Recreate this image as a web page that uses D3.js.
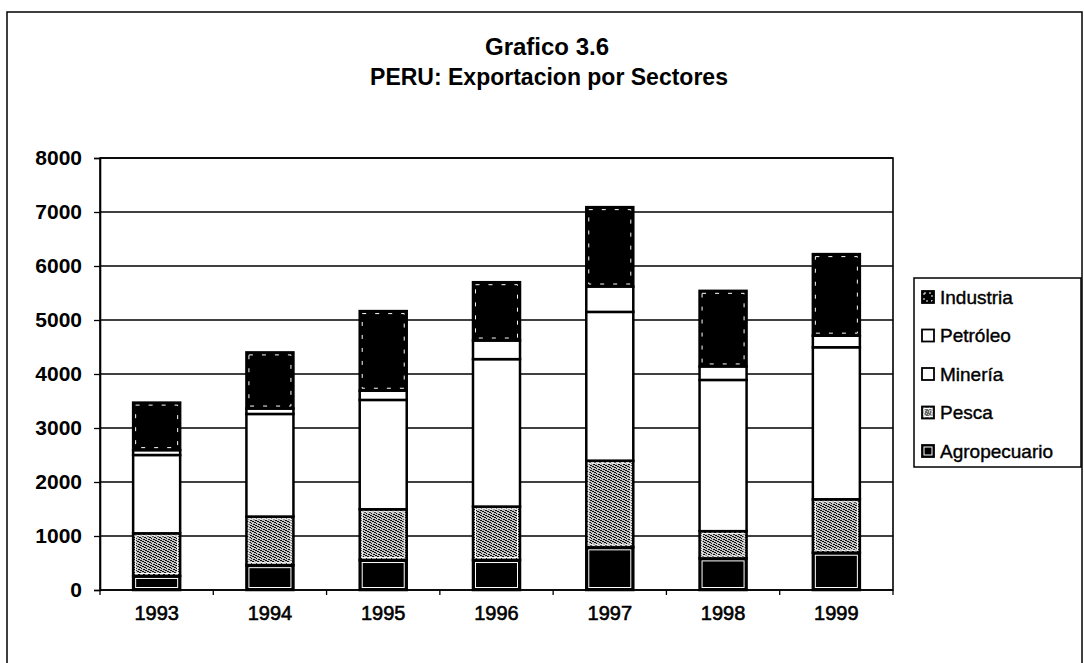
<!DOCTYPE html>
<html>
<head>
<meta charset="utf-8">
<script src="https://cdn.jsdelivr.net/npm/d3@7"></script>
<style>
  html, body { margin: 0; padding: 0; background: #fff; }
  svg { display: block; font-family: "Liberation Sans", Arial, sans-serif; }
</style>
</head>
<body>
<svg id="chart" width="1084" height="663"></svg>
<script>
// Exportaciones del Perú por sector, millones de US$
const years = ["1993", "1994", "1995", "1996", "1997", "1998", "1999"];
const agropecuario = [260, 460, 555, 555, 790, 585, 690];
const pesca        = [790, 900, 940, 990, 1605, 505, 990];
const mineria      = [1450, 1900, 2025, 2730, 2755, 2800, 2815];
const petroleo     = [90, 100, 170, 345, 470, 250, 215];
const industria    = [880, 1040, 1475, 1080, 1470, 1400, 1510];
const yTicks = [0, 1000, 2000, 3000, 4000, 5000, 6000, 7000, 8000];

const sectorKeys = ["Agropecuario", "Pesca", "Minería", "Petróleo", "Industria"];
const rows = years.map((y, i) => ({
  year: y,
  "Agropecuario": agropecuario[i],
  "Pesca": pesca[i],
  "Minería": mineria[i],
  "Petróleo": petroleo[i],
  "Industria": industria[i]
}));

const svg = d3.select("#chart");
const plot = { left: 100, right: 893, top: 158, bottom: 590 };
const FONT = "Liberation Sans, Arial, sans-serif";

// stipple texture for the Pesca series
const defs = svg.append("defs");
const pat = defs.append("pattern").attr("id", "stipple")
  .attr("width", 5).attr("height", 5).attr("patternUnits", "userSpaceOnUse");
pat.append("rect").attr("width", 5).attr("height", 5).attr("fill", "#c4c4c4");
[[0,0],[2,1],[4,2],[1,3],[3,4],[0,2],[3,1],[4,4],[1,0]].forEach(([dx, dy]) =>
  pat.append("rect").attr("x", dx).attr("y", dy).attr("width", 1).attr("height", 1).attr("fill", "#111"));

// outer frame
svg.append("rect").attr("x", 7).attr("y", 12).attr("width", 1075).attr("height", 660)
  .attr("fill", "none").attr("stroke", "#000").attr("stroke-width", 1.5);

// title
const title = svg.append("g").attr("font-weight", "bold").attr("text-anchor", "middle").attr("fill", "#000");
title.append("text").attr("x", 547).attr("y", 55).attr("font-size", 24).text("Grafico 3.6");
title.append("text").attr("x", 549).attr("y", 85).attr("font-size", 23).text("PERU: Exportacion por Sectores");

const x = d3.scaleBand().domain(years).range([plot.left, plot.right])
  .paddingInner(0.585).paddingOuter(0.2925);
const y = d3.scaleLinear().domain([0, 8000]).range([plot.bottom, plot.top]);

// gridlines
svg.append("g").selectAll("line").data(yTicks).join("line")
  .attr("x1", plot.left).attr("x2", plot.right)
  .attr("y1", d => y(d)).attr("y2", d => y(d))
  .attr("stroke", "#000").attr("stroke-width", 1.3);

// plot frame
svg.append("rect").attr("x", plot.left).attr("y", plot.top)
  .attr("width", plot.right - plot.left).attr("height", plot.bottom - plot.top)
  .attr("fill", "none").attr("stroke", "#000").attr("stroke-width", 1.6);

// y axis
const yAxis = svg.append("g").attr("transform", `translate(${plot.left},0)`)
  .call(d3.axisLeft(y).tickValues(yTicks).tickFormat(d3.format("d")).tickSize(6).tickPadding(12));
yAxis.select(".domain").attr("stroke-width", 1.6);
yAxis.selectAll(".tick line").attr("stroke-width", 1.3);
yAxis.selectAll("text").attr("font-size", 21).attr("font-weight", "bold")
  .attr("font-family", FONT).attr("fill", "#000");

// x axis
const xAxis = svg.append("g").attr("transform", `translate(0,${plot.bottom})`)
  .call(d3.axisBottom(x).tickSize(0).tickPadding(16));
xAxis.select(".domain").remove();
xAxis.selectAll("text").attr("font-size", 20).attr("font-family", FONT)
  .attr("fill", "#000").attr("stroke", "#000").attr("stroke-width", 0.6);
// category separators below the axis
const step = x.step();
svg.append("g").selectAll("line").data(d3.range(years.length + 1)).join("line")
  .attr("x1", i => plot.left + i * step).attr("x2", i => plot.left + i * step)
  .attr("y1", plot.bottom).attr("y2", plot.bottom + 5)
  .attr("stroke", "#000").attr("stroke-width", 1.3);

// bars
const stacked = d3.stack().keys(sectorKeys)(rows);
const style = {
  "Agropecuario": { fill: "#000", inner: "#fff", dash: null },
  "Pesca": { fill: "url(#stipple)", inner: "#fff", dash: null },
  "Minería": { fill: "#fff", inner: null, dash: null },
  "Petróleo": { fill: "#fff", inner: null, dash: null },
  "Industria": { fill: "#000", inner: "#fff", dash: "4,9" }
};

const layers = svg.append("g").selectAll("g").data(stacked).join("g");
layers.each(function (layer) {
  const st = style[layer.key];
  const g = d3.select(this);
  g.selectAll("rect.seg").data(layer).join("rect").attr("class", "seg")
    .attr("x", d => x(d.data.year))
    .attr("y", d => y(d[1]))
    .attr("width", x.bandwidth())
    .attr("height", d => y(d[0]) - y(d[1]))
    .attr("fill", st.fill)
    .attr("stroke", "#000").attr("stroke-width", 2.5);
  if (st.inner) {
    g.selectAll("rect.inner").data(layer).join("rect").attr("class", "inner")
      .attr("x", d => x(d.data.year) + 2.5)
      .attr("y", d => y(d[1]) + 2.5)
      .attr("width", x.bandwidth() - 5)
      .attr("height", d => Math.max(0, y(d[0]) - y(d[1]) - 5))
      .attr("fill", "none").attr("stroke", st.inner).attr("stroke-width", 1)
      .attr("stroke-dasharray", st.dash);
  }
});

// legend
const legendKeys = ["Industria", "Petróleo", "Minería", "Pesca", "Agropecuario"];
svg.append("rect").attr("x", 914).attr("y", 278).attr("width", 167).attr("height", 189)
  .attr("fill", "#fff").attr("stroke", "#000").attr("stroke-width", 1.5);
const leg = svg.append("g").selectAll("g").data(legendKeys).join("g")
  .attr("transform", (d, i) => `translate(922,${297 + i * 38.5})`);
leg.append("rect").attr("x", 0).attr("y", -6).attr("width", 12).attr("height", 12)
  .attr("fill", d => style[d].fill).attr("stroke", "#000").attr("stroke-width", 1.8);
leg.filter(d => style[d].inner).append("rect")
  .attr("x", 2).attr("y", -4).attr("width", 8).attr("height", 8)
  .attr("fill", "none").attr("stroke", d => style[d].inner).attr("stroke-width", 1)
  .attr("stroke-dasharray", d => style[d].dash ? "2,3" : null);
leg.append("text").attr("x", 18).attr("y", 0).attr("dy", "0.35em")
  .attr("font-size", 19).attr("fill", "#000").attr("stroke", "#000").attr("stroke-width", 0.4)
  .text(d => d);
</script>
</body>
</html>
